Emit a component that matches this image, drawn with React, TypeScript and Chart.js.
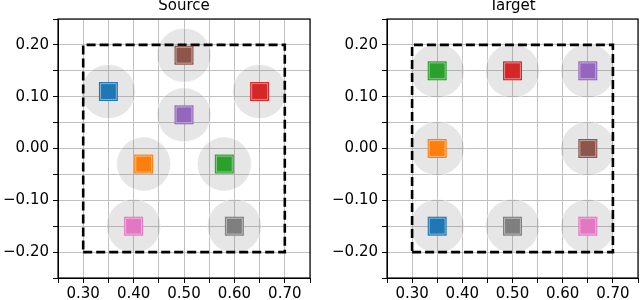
import React, { useEffect, useRef } from "react";
import { Chart, registerables } from "chart.js";

Chart.register(...registerables);

// tab10 colours for the eight items
const itemColors = ["#1f77b4", "#ff7f0e", "#2ca02c", "#d62728", "#9467bd", "#8c564b", "#e377c2", "#7f7f7f"];

// Source layout (same order as colours)
const sourceX = [0.35, 0.42, 0.58, 0.65, 0.5, 0.5, 0.4, 0.6];
const sourceY = [0.11, -0.03, -0.03, 0.11, 0.065, 0.18, -0.15, -0.15];

// Target layout
const targetX = [0.35, 0.35, 0.35, 0.5, 0.65, 0.65, 0.65, 0.5];
const targetY = [-0.15, 0.0, 0.15, 0.15, 0.15, 0.0, -0.15, -0.15];

// Dashed boundary box
const boxX = [0.3, 0.7, 0.7, 0.3, 0.3];
const boxY = [-0.2, -0.2, 0.2, 0.2, -0.2];

// Axis ranges and ticks
const xLimits = [0.25, 0.75];
const yLimits = [-0.25, 0.25];
const tickStep = 0.05;
const labelStep = 0.1;

const FONT = '"DejaVu Sans", sans-serif';

function fmtTick(value: number): string {
  const k = Math.round(value * 100);
  const l = Math.round(labelStep * 100);
  if (k % l !== 0) return "";
  const s = (k / 100).toFixed(2);
  return s.replace("-", "\u2212");
}

type PanelProps = {
  title: string;
  xs: number[];
  ys: number[];
  left: number;
  width: number;
  yAxisWidth: number;
  padRight: number;
};

function zeroPad(s: any) {
  s.paddingLeft = 0;
  s.paddingRight = 0;
  s.paddingTop = 0;
  s.paddingBottom = 0;
}

function Panel({ title, xs, ys, left, width, yAxisWidth, padRight }: PanelProps) {
  const ref = useRef<HTMLCanvasElement | null>(null);
  useEffect(() => {
    if (!ref.current) return;
    const pts = xs.map((x, i) => ({ x, y: ys[i] }));
    const box = boxX.map((x, i) => ({ x, y: boxY[i] }));
    const spinePlugin = {
      id: "spines",
      afterDatasetsDraw(chart: any) {
        const { ctx, chartArea } = chart;
        ctx.save();
        ctx.strokeStyle = "#000";
        ctx.lineWidth = 1.2;
        ctx.strokeRect(chartArea.left, chartArea.top, chartArea.right - chartArea.left, chartArea.bottom - chartArea.top);
        ctx.restore();
      },
    };
    const tickCommon = {
      stepSize: tickStep,
      autoSkip: false,
      maxTicksLimit: 30,
      color: "#000",
      font: { family: FONT, size: 15 },
      callback: (v: any) => fmtTick(Number(v)),
    };
    const chart = new Chart(ref.current, {
      type: "scatter",
      data: {
        datasets: [
          {
            label: "inner",
            data: pts,
            pointStyle: "rect",
            pointRadius: 11.2,
            backgroundColor: "rgba(0,0,0,0)",
            borderColor: "rgba(255,255,255,0.45)",
            borderWidth: 1,
            order: 0,
          } as any,
          {
            label: "items",
            data: pts,
            pointStyle: "rect",
            pointRadius: 13.4,
            backgroundColor: itemColors,
            borderColor: itemColors,
            borderWidth: 0,
            order: 1,
          } as any,
          {
            label: "box",
            data: box,
            showLine: true,
            borderColor: "#000",
            borderWidth: 2.6,
            borderDash: [9, 4],
            pointRadius: 0,
            fill: false,
            order: 2,
          } as any,
          {
            label: "areas",
            data: pts,
            pointStyle: "circle",
            pointRadius: 27,
            backgroundColor: "rgba(128,128,128,0.2)",
            borderColor: "rgba(255,255,255,0.5)",
            borderWidth: 1,
            order: 3,
          } as any,
        ],
      },
      options: {
        animation: false,
        responsive: false,
        events: [],
        layout: { autoPadding: false, padding: { top: 0, left: 0, right: padRight, bottom: 0 } },
        plugins: {
          legend: { display: false },
          tooltip: { enabled: false },
          title: {
            display: true,
            text: title,
            color: "#000",
            fullSize: false,
            font: { family: FONT, size: 15, weight: "normal", lineHeight: 0.8 },
            padding: { top: 0, bottom: 7 },
          },
        },
        scales: {
          x: {
            type: "linear",
            min: xLimits[0],
            max: xLimits[1],
            afterFit: (s: any) => {
              s.height = 22;
              zeroPad(s);
            },
            border: { display: true, color: "#000", width: 1 },
            grid: { color: "#c0c0c0", lineWidth: 1, tickColor: "#000", tickLength: 5, drawTicks: true },
            ticks: { ...tickCommon, maxRotation: 0, padding: 2 },
          },
          y: {
            type: "linear",
            min: yLimits[0],
            max: yLimits[1],
            afterFit: (s: any) => {
              s.width = yAxisWidth;
              zeroPad(s);
            },
            border: { display: true, color: "#000", width: 1 },
            grid: { color: "#c0c0c0", lineWidth: 1, tickColor: "#000", tickLength: 5, drawTicks: true },
            ticks: { ...tickCommon, padding: 4 },
          },
        },
      } as any,
      plugins: [spinePlugin],
    });
    return () => chart.destroy();
  }, [title, xs, ys, yAxisWidth, padRight]);
  return (
    <canvas
      ref={ref}
      width={width}
      height={300}
      style={{ position: "absolute", left, top: 0, width, height: 300 }}
    />
  );
}

export default function App() {
  return (
    <div style={{ position: "fixed", left: 0, top: 0, width: 640, height: 300, background: "#fff" }}>
      <Panel title="Source" xs={sourceX} ys={sourceY} left={0} width={320} yAxisWidth={58} padRight={10} />
      <Panel title="Target" xs={targetX} ys={targetY} left={320} width={320} yAxisWidth={67} padRight={2} />
    </div>
  );
}
